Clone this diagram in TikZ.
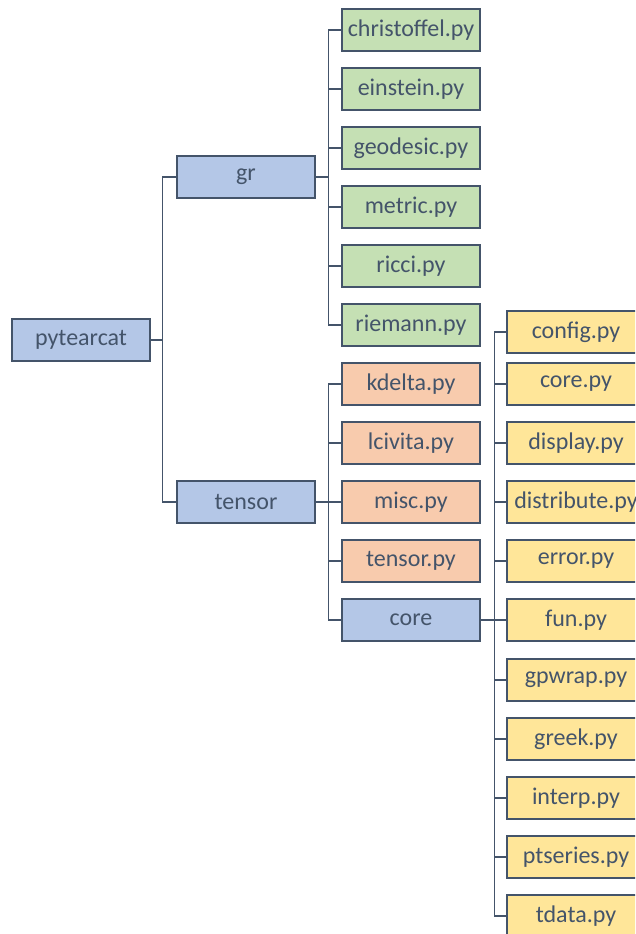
\documentclass[tikz,border=0pt]{standalone}
\usepackage{fontspec}
\setmainfont{Carlito}
\definecolor{box line color}{HTML}{44546A}
\definecolor{link color}{HTML}{44546A}
\definecolor{package color}{HTML}{B4C7E7}
\definecolor{gr color}{HTML}{C5E0B4}
\definecolor{tensor color}{HTML}{F8CBAD}
\definecolor{core color}{HTML}{FFE699}
\tikzset{
    x={1pt},
    y={-1pt},
    tree box/.style={
        draw=box line color, fill={#1},
        line width={1.5pt},
        minimum width={138},
        minimum height={42},
        inner sep=0pt,
        font={\fontsize{24}{28}\selectfont},
        text=box line color,
    },
    package/.style={
        tree box={package color},
    },
    gr file/.style={
        tree box={gr color},
    },
    tensor file/.style={
        tree box={tensor color},
    },
    core file/.style={
        tree box={core color},
    },
    link/.style={
        draw=link color,
        line width={1.2pt},
    },
}

\begin{document}
\begin{tikzpicture}
\useasboundingbox (0,0) rectangle (635,934);
\clip (0,0) rectangle (635,934);
% packages
\node[package] (pytearcat) at (81,340) {pytearcat};
\node[package] (gr) at (246,177) {gr};
\node[package] (tensor) at (246,502) {tensor};
% gr files
\node[gr file] (christoffel) at (411,30) {christoffel.py};
\node[gr file] (einstein) at (411,89) {einstein.py};
\node[gr file] (geodesic) at (411,148) {geodesic.py};
\node[gr file] (metric) at (411,207) {metric.py};
\node[gr file] (ricci) at (411,266) {ricci.py};
\node[gr file] (riemann) at (411,325) {riemann.py};
% tensor files
\node[tensor file] (kdelta) at (411,384) {kdelta.py};
\node[tensor file] (lcivita) at (411,443) {lcivita.py};
\node[tensor file] (misc) at (411,502) {misc.py};
\node[tensor file] (tensorpy) at (411,561) {tensor.py};
\node[package] (core) at (411,620) {core};
% core files
\node[core file] (config) at (576,332) {config.py};
\node[core file] (corepy) at (576,384) {core.py};
\node[core file] (display) at (576,443) {display.py};
\node[core file] (distribute) at (576,502) {distribute.py};
\node[core file] (error) at (576,561) {error.py};
\node[core file] (fun) at (576,620) {fun.py};
\node[core file] (gpwrap) at (576,680) {gpwrap.py};
\node[core file] (greek) at (576,739) {greek.py};
\node[core file] (interp) at (576,798) {interp.py};
\node[core file] (ptseries) at (576,857) {ptseries.py};
\node[core file] (tdata) at (576,916) {tdata.py};
% links
\draw[link] (pytearcat.east) -- ++(12,0) coordinate (pytearcat bus);
\draw[link] (pytearcat bus) |- (gr.west);
\draw[link] (pytearcat bus) |- (tensor.west);
\draw[link] (gr.east) -- ++(13,0) coordinate (gr bus);
\foreach \child in {christoffel,einstein,geodesic,metric,ricci,riemann}
    \draw[link] (gr bus) |- (\child.west);
\draw[link] (tensor.east) -- ++(13,0) coordinate (tensor bus);
\foreach \child in {kdelta,lcivita,misc,tensorpy,core}
    \draw[link] (tensor bus) |- (\child.west);
\draw[link] (core.east) -- ++(14,0) coordinate (core bus);
\foreach \child in {config,corepy,display,distribute,error,fun,gpwrap,greek,interp,ptseries,tdata}
    \draw[link] (core bus) |- (\child.west);
\end{tikzpicture}
\end{document}
